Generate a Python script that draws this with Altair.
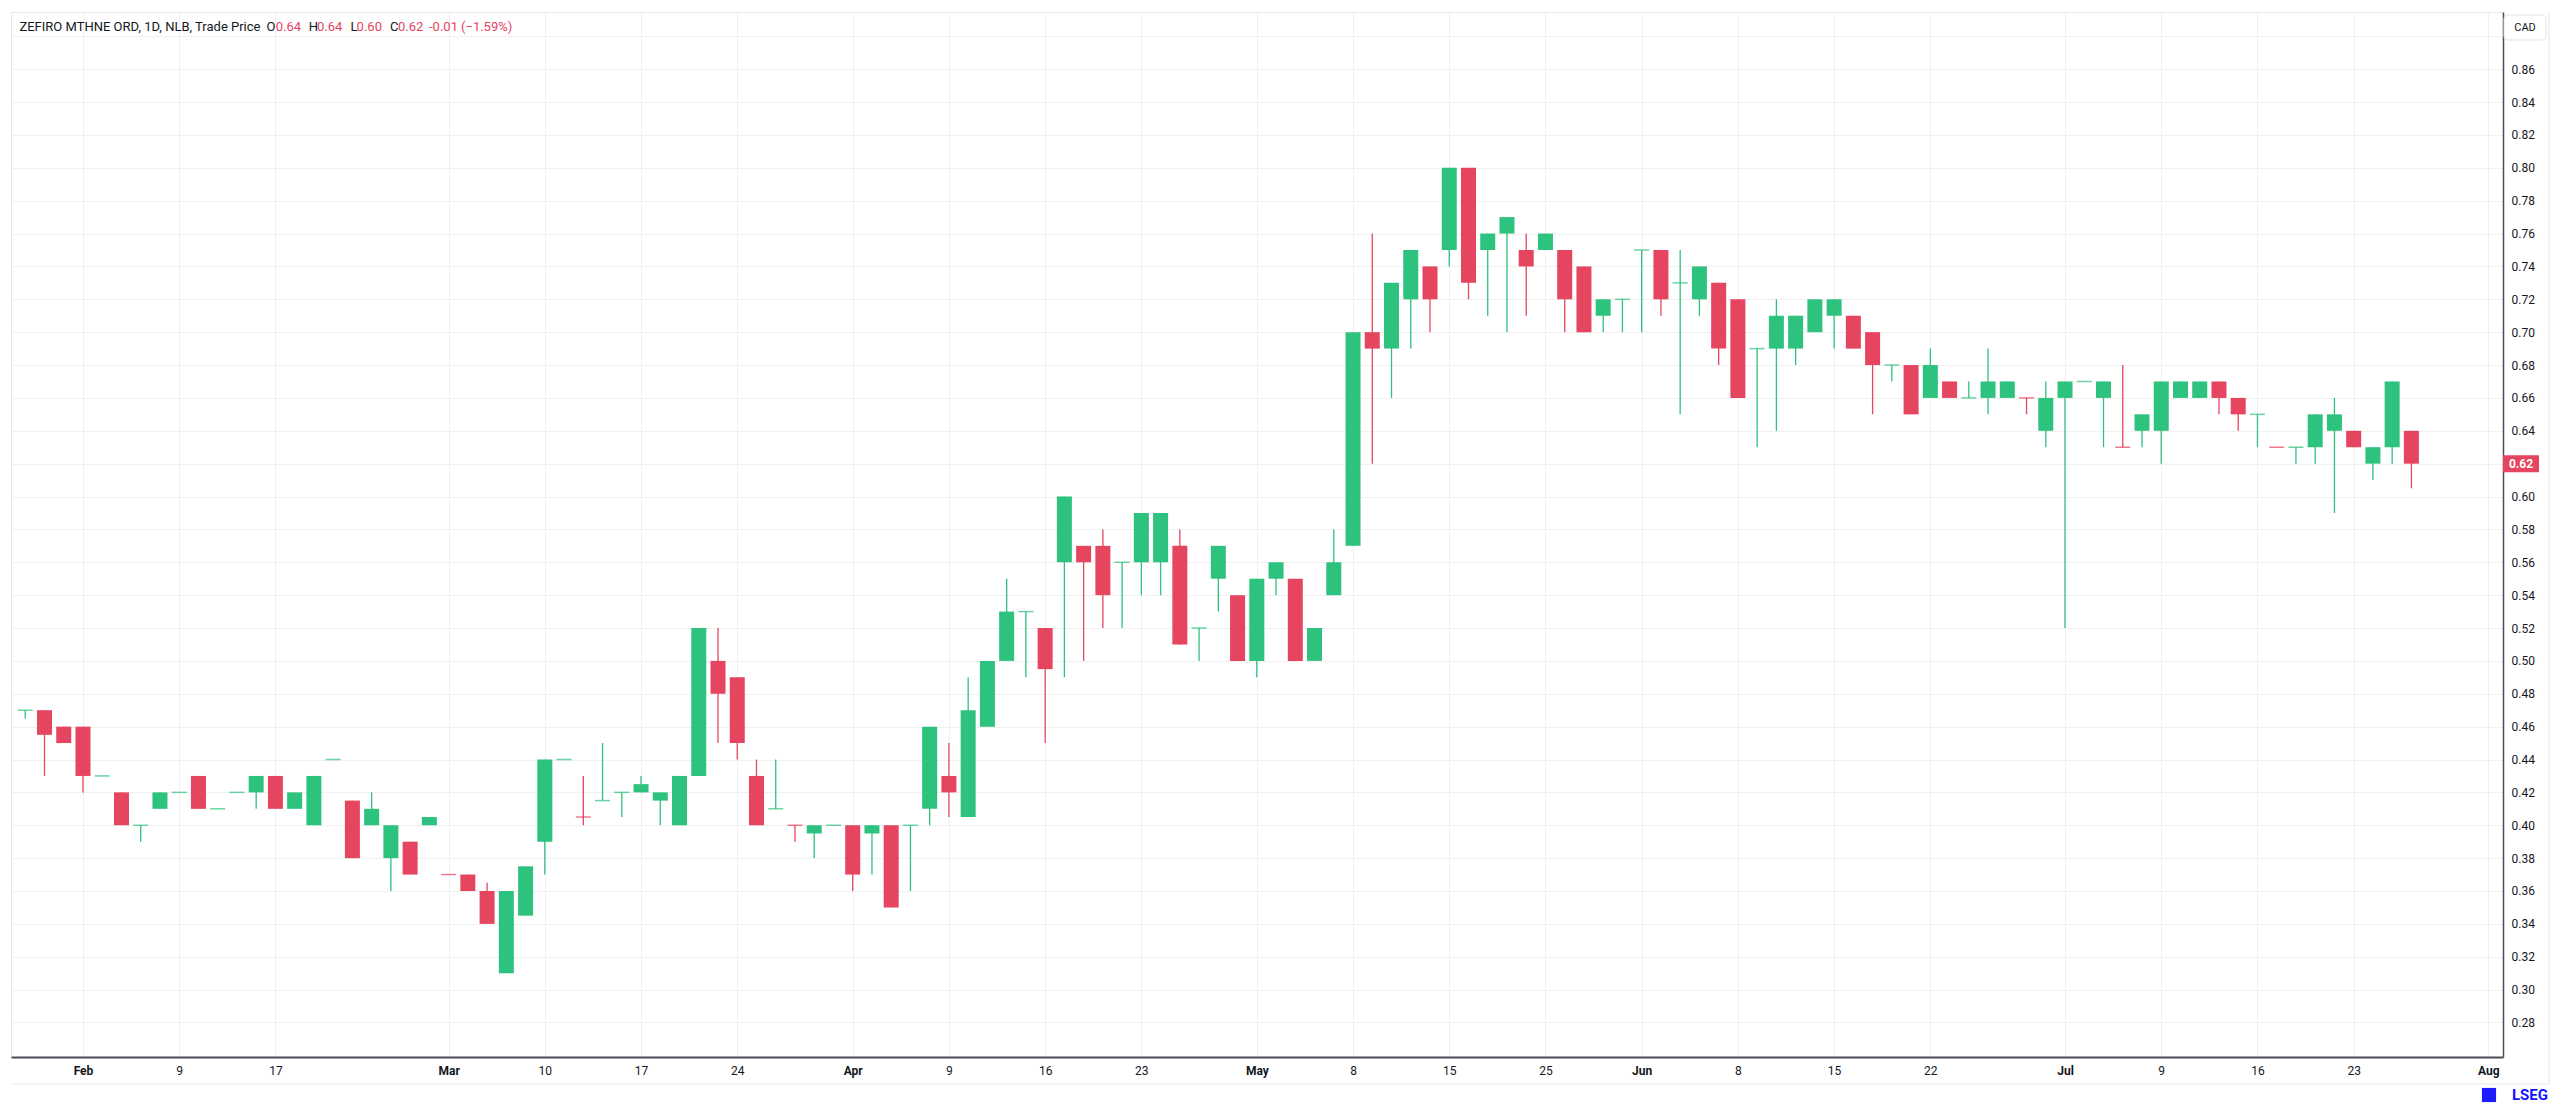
import json
import altair as alt
import pandas as pd

# ---------------- data ----------------
bar_index = list(range(125))
opens = [0.47, 0.47, 0.46, 0.46, 0.43, 0.42, 0.40, 0.41, 0.42, 0.43,
         0.41, 0.42, 0.42, 0.43, 0.41, 0.40, 0.44, 0.415, 0.40, 0.38,
         0.39, 0.40, 0.37, 0.37, 0.36, 0.31, 0.345, 0.39, 0.44, 0.405,
         0.415, 0.42, 0.42, 0.415, 0.40, 0.43, 0.50, 0.49, 0.43, 0.41,
         0.40, 0.395, 0.40, 0.40, 0.395, 0.40, 0.40, 0.41, 0.43, 0.405,
         0.46, 0.50, 0.53, 0.52, 0.56, 0.57, 0.57, 0.56, 0.56, 0.56,
         0.57, 0.52, 0.55, 0.54, 0.50, 0.55, 0.55, 0.50, 0.54, 0.57,
         0.70, 0.69, 0.72, 0.74, 0.75, 0.80, 0.75, 0.76, 0.75, 0.75,
         0.75, 0.74, 0.71, 0.72, 0.75, 0.75, 0.73, 0.72, 0.73, 0.72,
         0.69, 0.69, 0.69, 0.70, 0.71, 0.71, 0.70, 0.68, 0.68, 0.66,
         0.67, 0.66, 0.66, 0.66, 0.66, 0.64, 0.66, 0.67, 0.66, 0.63,
         0.64, 0.64, 0.66, 0.66, 0.67, 0.66, 0.65, 0.63, 0.63, 0.63,
         0.64, 0.64, 0.62, 0.63, 0.64]
highs = [0.47, 0.47, 0.46, 0.46, 0.43, 0.42, 0.40, 0.42, 0.42, 0.43,
         0.41, 0.42, 0.43, 0.43, 0.42, 0.43, 0.44, 0.415, 0.42, 0.40,
         0.39, 0.405, 0.37, 0.37, 0.365, 0.36, 0.375, 0.44, 0.44, 0.43,
         0.45, 0.42, 0.43, 0.42, 0.43, 0.52, 0.52, 0.49, 0.44, 0.44,
         0.40, 0.40, 0.40, 0.40, 0.40, 0.40, 0.40, 0.46, 0.45, 0.49,
         0.50, 0.55, 0.53, 0.52, 0.60, 0.57, 0.58, 0.56, 0.59, 0.59,
         0.58, 0.52, 0.57, 0.54, 0.55, 0.56, 0.55, 0.52, 0.58, 0.70,
         0.76, 0.73, 0.75, 0.74, 0.80, 0.80, 0.76, 0.77, 0.76, 0.76,
         0.75, 0.74, 0.72, 0.72, 0.75, 0.75, 0.75, 0.74, 0.73, 0.72,
         0.69, 0.72, 0.71, 0.72, 0.72, 0.71, 0.70, 0.68, 0.68, 0.69,
         0.67, 0.67, 0.69, 0.67, 0.66, 0.67, 0.67, 0.67, 0.67, 0.68,
         0.65, 0.67, 0.67, 0.67, 0.67, 0.66, 0.65, 0.63, 0.63, 0.65,
         0.66, 0.64, 0.63, 0.67, 0.64]
lows = [0.465, 0.43, 0.45, 0.42, 0.43, 0.40, 0.39, 0.41, 0.42, 0.41,
        0.41, 0.42, 0.41, 0.41, 0.41, 0.40, 0.44, 0.38, 0.40, 0.36,
        0.37, 0.40, 0.37, 0.36, 0.34, 0.31, 0.345, 0.37, 0.44, 0.40,
        0.415, 0.405, 0.42, 0.40, 0.40, 0.43, 0.45, 0.44, 0.40, 0.41,
        0.39, 0.38, 0.40, 0.36, 0.37, 0.35, 0.36, 0.40, 0.405, 0.405,
        0.46, 0.50, 0.49, 0.45, 0.49, 0.50, 0.52, 0.52, 0.54, 0.54,
        0.51, 0.50, 0.53, 0.50, 0.49, 0.54, 0.50, 0.50, 0.54, 0.57,
        0.62, 0.66, 0.69, 0.70, 0.74, 0.72, 0.71, 0.70, 0.71, 0.75,
        0.70, 0.70, 0.70, 0.70, 0.70, 0.71, 0.65, 0.71, 0.68, 0.66,
        0.63, 0.64, 0.68, 0.70, 0.69, 0.69, 0.65, 0.67, 0.65, 0.66,
        0.66, 0.66, 0.65, 0.66, 0.65, 0.63, 0.52, 0.67, 0.63, 0.63,
        0.63, 0.62, 0.66, 0.66, 0.65, 0.64, 0.63, 0.63, 0.62, 0.62,
        0.59, 0.63, 0.61, 0.62, 0.605]
closes = [0.47, 0.455, 0.45, 0.43, 0.43, 0.40, 0.40, 0.42, 0.42, 0.41,
          0.41, 0.42, 0.43, 0.41, 0.42, 0.43, 0.44, 0.38, 0.41, 0.40,
          0.37, 0.405, 0.37, 0.36, 0.34, 0.36, 0.375, 0.44, 0.44, 0.405,
          0.415, 0.42, 0.425, 0.42, 0.43, 0.52, 0.48, 0.45, 0.40, 0.41,
          0.40, 0.40, 0.40, 0.37, 0.40, 0.35, 0.40, 0.46, 0.42, 0.47,
          0.50, 0.53, 0.53, 0.495, 0.60, 0.56, 0.54, 0.56, 0.59, 0.59,
          0.51, 0.52, 0.57, 0.50, 0.55, 0.56, 0.50, 0.52, 0.56, 0.70,
          0.69, 0.73, 0.75, 0.72, 0.80, 0.73, 0.76, 0.77, 0.74, 0.76,
          0.72, 0.70, 0.72, 0.72, 0.75, 0.72, 0.73, 0.74, 0.69, 0.66,
          0.69, 0.71, 0.71, 0.72, 0.72, 0.69, 0.68, 0.68, 0.65, 0.68,
          0.66, 0.66, 0.67, 0.67, 0.66, 0.66, 0.67, 0.67, 0.67, 0.63,
          0.65, 0.67, 0.67, 0.67, 0.66, 0.65, 0.65, 0.63, 0.63, 0.65,
          0.65, 0.63, 0.63, 0.67, 0.62]

x_tick_pos = [3, 8, 13, 22, 27, 32, 37, 43, 48, 53, 58, 64, 69, 74, 79,
              84, 89, 94, 99, 106, 111, 116, 121, 128]
x_tick_lab = ["Feb", "9", "17", "Mar", "10", "17", "24", "Apr", "9", "16",
              "23", "May", "8", "15", "25", "Jun", "8", "15", "22", "Jul",
              "9", "16", "23", "Aug"]
month_pos = [3, 22, 43, 64, 84, 106, 128]
y_ticks = [0.28, 0.30, 0.32, 0.34, 0.36, 0.38, 0.40, 0.42, 0.44, 0.46,
           0.48, 0.50, 0.52, 0.54, 0.56, 0.58, 0.60, 0.62, 0.64, 0.66,
           0.68, 0.70, 0.72, 0.74, 0.76, 0.78, 0.80, 0.82, 0.84, 0.86, 0.88]

# header legend texts as shown in the reference
header_name = "ZEFIRO MTHNE ORD, 1D, NLB, Trade Price"
header_change = "-0.01"
header_pct = "(\u22121.59%)"

# ---------------- styling ----------------
GREEN = "#2dc27d"
RED = "#e5455f"
TXT = "#131722"
GRID = "#f0f0f0"
AXIS = "#4a4d58"
FONT = "Roboto"
W, H = 2492, 1045

# direction: body colour, dojis coloured versus previous close
dirs = []
for k, (o, c) in enumerate(zip(opens, closes)):
    if c > o:
        dirs.append("up")
    elif c < o:
        dirs.append("down")
    else:
        prev = closes[k - 1] if k > 0 else c
        dirs.append("up" if c >= prev else "down")

df = pd.DataFrame({"i": bar_index, "open": opens, "high": highs,
                   "low": lows, "close": closes, "dir": dirs})
df["doji"] = df["open"] == df["close"]
last = df.tail(1).copy()

xscale = alt.Scale(domain=[-0.481, 128.5], nice=False, zero=False)
yscale = alt.Scale(domain=[0.2590, 0.8948], nice=False, zero=False)

x_axis = alt.Axis(
    values=x_tick_pos,
    labelExpr=f"{json.dumps(x_tick_lab)}[indexof({json.dumps(x_tick_pos)}, datum.value)]",
    grid=True, gridColor=GRID, ticks=False, domainColor=AXIS, domainWidth=1.8,
    labelFont=FONT, labelFontSize=12, labelColor=TXT, labelPadding=8,
    labelFlush=False, labelOverlap=False, title=None,
    labelFontWeight={"condition": {"test": f"indexof({json.dumps(month_pos)}, datum.value) >= 0",
                                   "value": "bold"}, "value": "normal"},
)
y_axis = alt.Axis(
    orient="right", values=y_ticks,
    labelExpr="datum.value > 0.87 ? '' : format(datum.value, '.2f')",
    grid=True, gridColor=GRID, ticks=False, domainColor=AXIS, domainWidth=1.5,
    labelFont=FONT, labelFontSize=12, labelColor=TXT, labelPadding=8,
    labelFlush=False, labelOverlap=False, title=None,
)

X = alt.X("i:Q", scale=xscale, axis=x_axis)
color = alt.Color("dir:N", scale=alt.Scale(domain=["up", "down"], range=[GREEN, RED]), legend=None)

base = alt.Chart(df)
wicks = base.mark_rule(strokeWidth=1.3).encode(
    x=X, y=alt.Y("low:Q", scale=yscale, axis=y_axis), y2="high:Q", color=color)
bodies = base.mark_bar(size=15).encode(
    x=X, y=alt.Y("open:Q", scale=yscale, axis=y_axis), y2="close:Q", color=color)
dojis = base.transform_filter("datum.doji").mark_tick(
    orient="horizontal", size=15, thickness=1.5).encode(
    x=X, y=alt.Y("close:Q", scale=yscale, axis=y_axis), color=color)

one = pd.DataFrame({"k": [0]})

# header legend text built from the last bar
o_, h_, l_, c_ = opens[-1], highs[-1], lows[-1], closes[-1]
segments = [
    (header_name, 8.4, TXT),
    ("O", 255.5, TXT), (f"{o_:.2f}", 264.7, RED),
    ("H", 297.7, TXT), (f"{h_:.2f}", 306.0, RED),
    ("L", 339.4, TXT), (f"{l_:.2f}", 345.6, RED),
    ("C", 379.0, TXT), (f"{c_:.2f}", 387.0, RED),
    (header_change, 418.0, RED),
    (header_pct, 450.0, RED),
]
header = [alt.Chart(one).mark_text(align="left", baseline="middle", font=FONT,
                                   fontSize=13, color=col, text=t)
          .encode(x=alt.value(px), y=alt.value(15)) for t, px, col in segments]

# currency box
cad_box = alt.Chart(one).mark_rect(fill="white", stroke="#e0e3eb", strokeWidth=1,
                                   cornerRadius=4).encode(
    x=alt.value(2493), x2=alt.value(2535), y=alt.value(3), y2=alt.value(28))
cad_txt = alt.Chart(one).mark_text(font=FONT, fontSize=11, color=TXT, text="CAD",
                                   baseline="middle").encode(
    x=alt.value(2514), y=alt.value(15.5))

# last price tag
tag = alt.Chart(last).mark_rule(strokeWidth=17, color=RED, strokeCap="butt").encode(
    x=alt.value(2492), x2=alt.value(2528), y=alt.Y("close:Q", scale=yscale, axis=y_axis))
tag_txt = alt.Chart(last).mark_text(font=FONT, fontSize=12, fontWeight="bold",
                                    color="white", baseline="middle").encode(
    x=alt.value(2510), y=alt.Y("close:Q", scale=yscale, axis=y_axis),
    text=alt.Text("close:Q", format=".2f"))

# panel borders
border_h = alt.Chart(one).mark_rule(color="#e6e6e6", strokeWidth=1).encode(
    x=alt.value(0), x2=alt.value(2538), y=alt.value(1072))
border_v = alt.Chart(one).mark_rule(color="#e6e6e6", strokeWidth=1).encode(
    x=alt.value(2538), y=alt.value(0), y2=alt.value(1072))

# LSEG mark
logo_icon = alt.Chart(one).mark_point(shape="square", filled=True, size=200,
                                      color="#1c1cff", opacity=1).encode(
    x=alt.value(2478), y=alt.value(1083))
logo_txt = alt.Chart(one).mark_text(align="right", baseline="middle", font=FONT,
                                    fontSize=15, fontWeight="bold", color="#1414ff",
                                    text="LSEG").encode(
    x=alt.value(2537), y=alt.value(1083))

chart = alt.layer(
    wicks, bodies, dojis, *header, cad_box, cad_txt, tag, tag_txt,
    border_h, border_v, logo_icon, logo_txt,
).properties(
    width=W, height=H,
    padding={"left": 2, "top": 3, "right": 0, "bottom": 0},
    background="white",
).configure_view(stroke="#e6e6e6", strokeWidth=1)

chart.save("out.html", embed_options={"renderer": "svg", "actions": False})
